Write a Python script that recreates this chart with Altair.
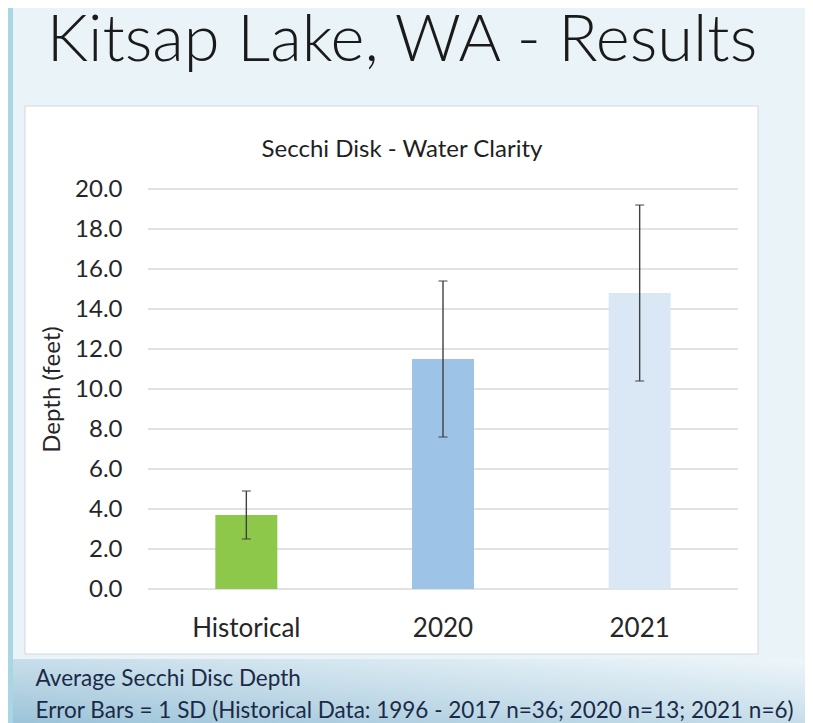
import altair as alt
import pandas as pd

# ---- data ----
categories = ["Historical", "2020", "2021"]
mean_depth = [3.7, 11.5, 14.8]
sd_depth = [1.2, 3.9, 4.4]
bar_colors = ["#8DC84B", "#9DC3E6", "#DAE8F5"]
y_tick_values = [0, 2, 4, 6, 8, 10, 12, 14, 16, 18, 20]
footer_lines = [
    "Average Secchi Disc Depth",
    "Error Bars = 1 SD (Historical Data: 1996 - 2017 n=36; 2020 n=13; 2021 n=6)",
]
slide_title = "Kitsap Lake, WA - Results"
chart_title = "Secchi Disk - Water Clarity"
y_title = "Depth (feet)"

df = pd.DataFrame({"cat": categories, "mean": mean_depth, "sd": sd_depth})
df["lo"] = df["mean"] - df["sd"]
df["hi"] = df["mean"] + df["sd"]
grid_df = pd.DataFrame({"v": y_tick_values})

FONT = "Lato"

x_enc = alt.X(
    "cat:N",
    sort=categories,
    scale=alt.Scale(paddingInner=0, paddingOuter=0),
    axis=alt.Axis(
        title=footer_lines,
        labelAngle=0,
        labelFontSize=26,
        labelPadding=26,
        labelColor="#262626",
        labelFont=FONT,
        ticks=False,
        domain=False,
        grid=False,
        zindex=1,
        titleFont=FONT,
        titleFontSize=22.5,
        titleFontWeight="normal",
        titleColor="#1B2A47",
        titleAnchor="start",
        titleAlign="left",
        titleBaseline="top",
        titleLineHeight=32,
        titleX=-113,
        titleY=78,
    ),
)

y_axis = alt.Axis(
    title=y_title,
    values=y_tick_values,
    format=".1f",
    labelFontSize=24,
    labelFont=FONT,
    labelColor="#262626",
    labelPadding=26,
    ticks=False,
    domain=False,
    grid=False,
    zindex=1,
    titleFont=FONT,
    titleFontSize=24,
    titleFontWeight="normal",
    titleColor="#262626",
    titlePadding=10,
)
y_scale = alt.Scale(domain=[0, 20], nice=False)

base = alt.Chart(df)

# decorative slide elements
panel = alt.Chart(alt.Data(values=[{}])).mark_rect(
    fill="white", stroke="#CFD9DE", strokeWidth=1
).encode(
    x=alt.value(-123), x2=alt.value(610), y=alt.value(-83), y2=alt.value(465)
)
bottom_band = alt.Chart(alt.Data(values=[{}])).mark_rect(
    color=alt.Gradient(
        gradient="linear",
        stops=[
            alt.GradientStop(color="#9CC3D9", offset=0),
            alt.GradientStop(color="#C3DBE8", offset=0.45),
            alt.GradientStop(color="#EEF6FA", offset=1),
        ],
        x1=0, x2=1, y1=1, y2=0,
    )
).encode(
    x=alt.value(-140), x2=alt.value(660), y=alt.value(470), y2=alt.value(534)
)
left_strip = alt.Chart(alt.Data(values=[{}])).mark_rect(color="#A9D6E4").encode(
    x=alt.value(-140), x2=alt.value(-135), y=alt.value(-181), y2=alt.value(534)
)

# horizontal gridlines through the y scale
grid = alt.Chart(grid_df).mark_rule(color="#D9D9D9", strokeWidth=1.3).encode(
    y=alt.Y("v:Q", scale=y_scale, axis=y_axis),
    x=alt.value(0),
    x2=alt.value(590),
)

bars = base.mark_bar(size=62).encode(
    x=x_enc,
    y=alt.Y("mean:Q", scale=y_scale, axis=y_axis),
    color=alt.Color(
        "cat:N", scale=alt.Scale(domain=categories, range=bar_colors), legend=None
    ),
)

err_rule = base.mark_rule(color="#404040", strokeWidth=1.4).encode(
    x=x_enc,
    y=alt.Y("lo:Q", scale=y_scale, axis=y_axis),
    y2="hi:Q",
)
cap_lo = base.mark_tick(color="#404040", thickness=1.4, size=9).encode(
    x=x_enc, y=alt.Y("lo:Q", scale=y_scale, axis=y_axis)
)
cap_hi = base.mark_tick(color="#404040", thickness=1.4, size=9).encode(
    x=x_enc, y=alt.Y("hi:Q", scale=y_scale, axis=y_axis)
)

chart = (
    alt.layer(bottom_band, left_strip, panel, grid, bars, err_rule, cap_lo, cap_hi)
    .properties(
        width=590,
        height=400,
        autosize=alt.AutoSizeParams(type="none"),
        padding={"left": 140, "top": 181, "right": 67, "bottom": 134},
        background="#EAF3F8",
        title=alt.TitleParams(
            text=slide_title,
            subtitle=chart_title,
            anchor="middle",
            dx=-41,
            dy=155,
            offset=0,
            font=FONT,
            fontSize=65,
            fontWeight=300,
            color="#1A1A1A",
            subtitleFont=FONT,
            subtitleFontSize=24,
            subtitleColor="#1F1F1F",
            subtitlePadding=63,
        ),
    )
    .configure_view(stroke=None)
)

chart.save("out.html", embed_options={"renderer": "svg", "actions": False})
